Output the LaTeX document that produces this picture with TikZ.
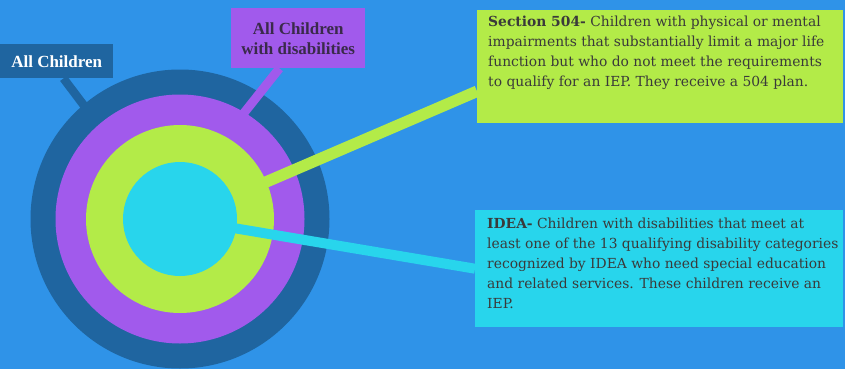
\documentclass[tikz,border=0pt]{standalone}
\usepackage{fontspec}
\setmainfont{Liberation Serif}
\newfontfamily\bodyfont{DejaVu Serif}
\usetikzlibrary{calc}
\definecolor{bg}{HTML}{2F93E8}
\definecolor{ringdark}{HTML}{1F65A0}
\definecolor{ringpurple}{HTML}{A15AEC}
\definecolor{ringgreen}{HTML}{B3EB48}
\definecolor{ringcyan}{HTML}{28D5EC}
\definecolor{txt}{HTML}{3A3A3A}
\definecolor{lbltxt}{HTML}{3A2A4A}
\pgfdeclarelayer{back}
\pgfsetlayers{back,main}
\begin{document}
\begin{tikzpicture}[x=1pt,y=-1pt,
  box/.style={rectangle, inner sep=0pt, anchor=north west},
  disc/.style={circle, inner sep=0pt, draw=none},
  conn/.style={line cap=butt},
  body/.style={inner sep=0pt, anchor=north west, align=left, text=txt, font=\bodyfont\fontsize{13.85}{20}\selectfont},
  lbl/.style={align=center, font=\fontsize{17}{20}\selectfont\bfseries}]
\useasboundingbox (0,0) rectangle (845,369);
% label boxes (front)
\node[box, fill=ringdark, minimum width=113pt, minimum height=34pt] (dbox) at (0,44) {};
\node[lbl, text=white] (dtext) at (dbox.center) {All Children};
\node[box, fill=ringpurple, minimum width=134pt, minimum height=60pt] (pbox) at (231,8) {};
\node[lbl, text=lbltxt] (ptext) at (pbox.center) {All Children\\with disabilities};
\node[box, fill=ringgreen, minimum width=366pt, minimum height=113pt] (gbox) at (477,10) {};
\node[body] (gtext) at (488,15.5) {\textbf{Section 504-} Children with physical or mental\\impairments that substantially limit a major life\\function but who do not meet the requirements\\to qualify for an IEP. They receive a 504 plan.};
\node[box, fill=ringcyan, minimum width=368pt, minimum height=117pt] (cbox) at (475,210) {};
\node[body] (ctext) at (487,217.5) {\textbf{IDEA-} Children with disabilities that meet at\\least one of the 13 qualifying disability categories\\recognized by IDEA who need special education\\and related services. These children receive an\\IEP.};
\begin{pgfonlayer}{back}
\fill[bg] (0,0) rectangle (845,369);
\coordinate (c) at (180,219);
\coordinate (dend) at (91.5,115.5);
\coordinate (pend) at (236,123);
\draw[conn, ringdark, line width=8.5pt] ($(dbox.south west)!0.56!(dbox.south east)$) -- (dend);
\node[disc, fill=ringdark, minimum size=299pt] (rdark) at (c) {};
\draw[conn, ringpurple, line width=9pt] ($(pbox.south west)!0.36!(pbox.south east)$) -- (pend);
\node[disc, fill=ringpurple, minimum size=249pt] (rpurple) at (c) {};
\node[disc, fill=ringgreen, minimum size=188pt] (rgreen) at (c) {};
\draw[conn, ringcyan, line width=10pt] (c) -- (cbox.west);
\node[disc, fill=ringcyan, minimum size=114pt] (rcyan) at (c) {};
\coordinate (gstart) at ($(gbox.north west)!0.717!(gbox.south west)$);
\draw[conn, ringgreen, line width=11.5pt] ($(c)!75pt!(gstart)$) -- (gstart);
\end{pgfonlayer}
\end{tikzpicture}
\end{document}
